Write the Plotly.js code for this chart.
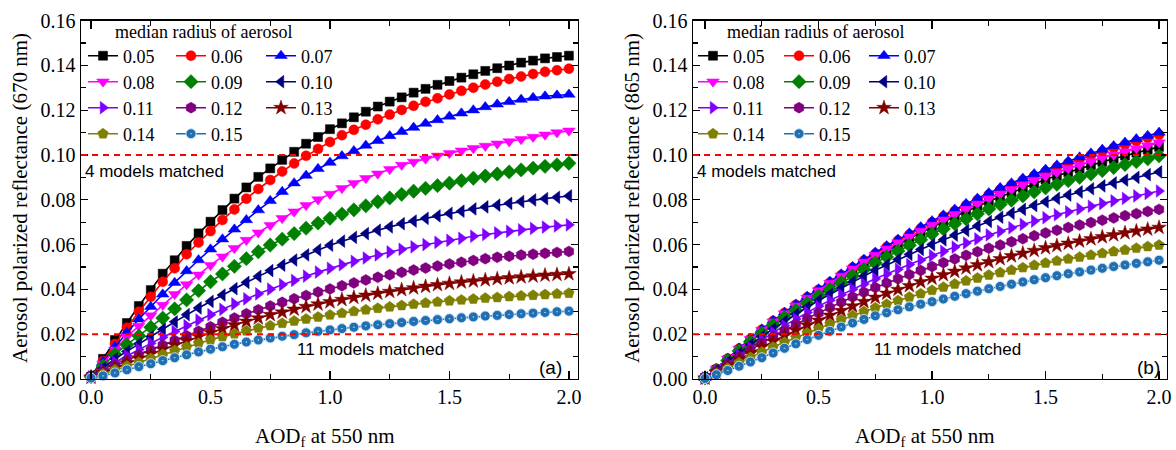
<!DOCTYPE html>
<html>
<head>
<meta charset="utf-8">
<script src="https://cdn.plot.ly/plotly-3.0.1.min.js"></script>
<style>html,body{margin:0;padding:0;background:#fff;}#chart{width:1176px;height:450px;}</style>
</head>
<body>
<div id="chart"></div>
<script>
// ---------------- DATA ----------------
const aod = [0,0.05,0.1,0.15,0.2,0.25,0.3,0.35,0.4,0.45,0.5,0.55,0.6,0.65,0.7,0.75,0.8,0.85,0.9,0.95,1.0,1.05,1.1,1.15,1.2,1.25,1.3,1.35,1.4,1.45,1.5,1.55,1.6,1.65,1.7,1.75,1.8,1.85,1.9,1.95,2.0];
const radii = ['0.05','0.06','0.07','0.08','0.09','0.10','0.11','0.12','0.13','0.14','0.15'];
const thresholds = [0.02, 0.10];
const matchLabels = ['11 models matched', '4 models matched'];
const panelTags = ['(a)', '(b)'];
const legendTitle = 'median radius of aerosol';
const xTitle = 'AOD<sub>f</sub> at 550 nm';
const yTitles = ['Aerosol polarized reflectance (670 nm)', 'Aerosol polarized reflectance (865 nm)'];

// 670 nm panel (a)
const a005 = [0.001,0.009,0.0174,0.025,0.0326,0.0397,0.047,0.053,0.0594,0.065,0.0702,0.0754,0.0805,0.0855,0.0902,0.094,0.0978,0.1014,0.105,0.108,0.1115,0.1141,0.1168,0.1193,0.1216,0.1238,0.1257,0.1278,0.1295,0.1313,0.133,0.1345,0.136,0.1375,0.1387,0.1399,0.1412,0.1421,0.1431,0.1437,0.1443];
const a006 = [0.001,0.008,0.0156,0.0229,0.030,0.0367,0.0434,0.0494,0.0557,0.0609,0.066,0.071,0.0757,0.0805,0.0848,0.0888,0.0926,0.0962,0.0996,0.1027,0.1058,0.1088,0.1112,0.1135,0.1159,0.118,0.1201,0.1219,0.1237,0.1253,0.127,0.1286,0.13,0.1314,0.1327,0.1339,0.135,0.1361,0.1371,0.1378,0.1385];
const a007 = [0.001,0.0077,0.0144,0.0207,0.0267,0.0323,0.0378,0.043,0.0482,0.0531,0.0579,0.0624,0.0668,0.071,0.0754,0.0795,0.0836,0.0874,0.0908,0.0938,0.0966,0.0995,0.1018,0.1042,0.1063,0.1085,0.1104,0.1122,0.114,0.1156,0.1172,0.1186,0.12,0.1214,0.1226,0.1237,0.1247,0.1255,0.1262,0.1266,0.127];
const a008 = [0.001,0.0068,0.013,0.0189,0.0236,0.0283,0.033,0.0378,0.0422,0.0465,0.0508,0.0546,0.0583,0.062,0.0653,0.0686,0.0717,0.0747,0.0775,0.0801,0.0826,0.0851,0.0874,0.0896,0.0916,0.0936,0.0955,0.0969,0.0983,0.0996,0.1008,0.1019,0.103,0.104,0.105,0.106,0.107,0.108,0.109,0.11,0.1108];
const a009 = [0.001,0.0058,0.011,0.0153,0.0192,0.0231,0.0272,0.0313,0.0353,0.0394,0.0434,0.0469,0.0503,0.0537,0.0568,0.0598,0.0624,0.0649,0.0673,0.0696,0.0717,0.0736,0.0755,0.0773,0.0791,0.0808,0.0824,0.0838,0.0851,0.0863,0.0874,0.0885,0.0896,0.0906,0.0915,0.0924,0.0933,0.0941,0.0949,0.0956,0.0963];
const a010 = [0.001,0.0048,0.009,0.0123,0.0157,0.0189,0.0222,0.0255,0.0287,0.0317,0.0346,0.0375,0.0403,0.0431,0.0458,0.0484,0.0508,0.0531,0.0554,0.0576,0.0597,0.0615,0.0632,0.0649,0.0664,0.0679,0.0693,0.0705,0.0717,0.0728,0.0739,0.0749,0.0759,0.0768,0.0776,0.0784,0.0792,0.0799,0.0805,0.0811,0.0817];
const a011 = [0.001,0.004,0.0075,0.0104,0.0132,0.0159,0.0186,0.0212,0.0238,0.0263,0.0287,0.0311,0.0335,0.0358,0.038,0.0401,0.0421,0.044,0.0459,0.0477,0.0494,0.051,0.0525,0.054,0.0554,0.0567,0.0579,0.059,0.06,0.061,0.0619,0.0628,0.0637,0.0645,0.0652,0.0659,0.0666,0.0672,0.0678,0.0683,0.0688];
const a012 = [0.0008,0.0033,0.006,0.0084,0.0107,0.0129,0.0151,0.0172,0.0193,0.0213,0.0233,0.0253,0.0272,0.0291,0.0309,0.0326,0.0342,0.0358,0.0373,0.0388,0.0402,0.0416,0.0429,0.0442,0.0454,0.0465,0.0476,0.0486,0.0495,0.0504,0.0513,0.0521,0.0529,0.0537,0.0543,0.0548,0.0553,0.0557,0.0561,0.0565,0.0569];
const a013 = [0.0007,0.0028,0.005,0.0071,0.0092,0.0112,0.0132,0.0151,0.017,0.0189,0.0207,0.0224,0.0241,0.0257,0.0272,0.0287,0.0298,0.0311,0.0323,0.0334,0.0344,0.0354,0.0364,0.0373,0.0382,0.039,0.0398,0.0406,0.0413,0.042,0.0426,0.0432,0.0437,0.0442,0.0447,0.0451,0.0455,0.0459,0.0463,0.0466,0.0469];
const a014 = [0.0006,0.0023,0.0041,0.0058,0.0075,0.0092,0.011,0.0127,0.0144,0.016,0.0175,0.0189,0.0202,0.0215,0.0227,0.0238,0.0249,0.0259,0.0268,0.0277,0.0286,0.0294,0.0302,0.0309,0.0316,0.0322,0.0328,0.0334,0.0339,0.0344,0.0349,0.0353,0.0357,0.0361,0.0364,0.0368,0.0371,0.0374,0.0377,0.038,0.0383];
const a015 = [0.0004,0.0014,0.0027,0.0041,0.0055,0.0068,0.0082,0.0095,0.0108,0.0121,0.0133,0.0144,0.0155,0.0165,0.0174,0.0183,0.0191,0.0198,0.0206,0.0213,0.0219,0.0225,0.0231,0.0237,0.0242,0.0247,0.0252,0.0257,0.0261,0.0265,0.0269,0.0273,0.0277,0.0281,0.0284,0.0288,0.0291,0.0294,0.0297,0.03,0.0303];

// 865 nm panel (b)
const b005 = [0.0005,0.0041,0.0085,0.0128,0.017,0.021,0.0248,0.0284,0.032,0.0355,0.039,0.0422,0.0454,0.0485,0.0515,0.0545,0.0573,0.06,0.0627,0.0653,0.0678,0.0702,0.0725,0.0748,0.0771,0.0793,0.0813,0.0833,0.0853,0.0872,0.089,0.0907,0.0923,0.0939,0.0954,0.0969,0.0983,0.0997,0.101,0.1023,0.1036];
const b006 = [0.0005,0.0045,0.0091,0.0136,0.0179,0.022,0.0259,0.0295,0.0331,0.0365,0.0398,0.0431,0.0464,0.0497,0.0529,0.056,0.0589,0.0618,0.0645,0.0672,0.0699,0.0725,0.075,0.0775,0.0799,0.0823,0.0845,0.0866,0.0887,0.0907,0.0927,0.0946,0.0964,0.0981,0.0998,0.1015,0.1031,0.1046,0.1061,0.1076,0.109];
const b007 = [0.0005,0.0045,0.0092,0.0137,0.018,0.0222,0.0261,0.0297,0.0333,0.0368,0.0401,0.0435,0.0468,0.0501,0.0533,0.0565,0.0594,0.0623,0.0651,0.0678,0.0705,0.0731,0.0757,0.0782,0.0806,0.083,0.0853,0.0874,0.0895,0.0915,0.0935,0.0954,0.0972,0.099,0.1007,0.1024,0.104,0.1056,0.1071,0.1086,0.11];
const b008 = [0.0005,0.0044,0.009,0.0134,0.0177,0.0218,0.0256,0.0292,0.0327,0.0361,0.0395,0.0428,0.046,0.0492,0.0523,0.0553,0.0581,0.0609,0.0635,0.0661,0.0687,0.0711,0.0735,0.0759,0.0782,0.0805,0.0826,0.0846,0.0866,0.0886,0.0905,0.0922,0.0939,0.0955,0.0971,0.0987,0.1001,0.1015,0.1029,0.1042,0.1055];
const b009 = [0.0005,0.004,0.0083,0.0125,0.0166,0.0205,0.024,0.0274,0.0306,0.0338,0.037,0.04,0.043,0.046,0.0489,0.0518,0.0545,0.0571,0.0597,0.0622,0.0647,0.067,0.0693,0.0715,0.0737,0.0759,0.0779,0.0798,0.0817,0.0835,0.0853,0.0869,0.0885,0.09,0.0915,0.093,0.0944,0.0957,0.097,0.0983,0.0996];
const b010 = [0.0005,0.0038,0.0077,0.0115,0.0153,0.019,0.0224,0.0257,0.0289,0.032,0.035,0.0378,0.0406,0.0433,0.0459,0.0485,0.0509,0.0533,0.0556,0.0578,0.06,0.0621,0.0642,0.0663,0.0683,0.0703,0.0722,0.074,0.0757,0.0774,0.0791,0.0806,0.0821,0.0835,0.0849,0.0862,0.0875,0.0888,0.09,0.0912,0.0924];
const b011 = [0.0004,0.0035,0.0071,0.0106,0.0141,0.0175,0.0207,0.0238,0.0268,0.0297,0.0325,0.0351,0.0376,0.0401,0.0424,0.0447,0.0469,0.049,0.0511,0.0531,0.0551,0.057,0.0589,0.0607,0.0625,0.0643,0.0659,0.0675,0.069,0.0705,0.072,0.0733,0.0746,0.0759,0.0771,0.0783,0.0795,0.0806,0.0817,0.0828,0.0839];
const b012 = [0.0004,0.0032,0.0065,0.0097,0.0129,0.016,0.0189,0.0217,0.0244,0.027,0.0295,0.0319,0.0343,0.0366,0.0387,0.0408,0.0428,0.0447,0.0466,0.0484,0.0502,0.0519,0.0536,0.0552,0.0568,0.0584,0.0598,0.0612,0.0626,0.0639,0.0652,0.0664,0.0676,0.0687,0.0698,0.0709,0.0719,0.0729,0.0738,0.0748,0.0757];
const b013 = [0.0003,0.0029,0.0058,0.0087,0.0115,0.0143,0.0168,0.0193,0.0217,0.024,0.0262,0.0284,0.0305,0.0325,0.0345,0.0364,0.0382,0.0399,0.0416,0.0433,0.0449,0.0465,0.048,0.0495,0.0509,0.0523,0.0536,0.0549,0.0561,0.0573,0.0585,0.0595,0.0605,0.0615,0.0625,0.0634,0.0643,0.0652,0.066,0.0668,0.0676];
const b014 = [0.0003,0.0024,0.0048,0.0073,0.0097,0.0121,0.0143,0.0164,0.0185,0.0205,0.0225,0.0245,0.0264,0.0283,0.0301,0.0318,0.0334,0.035,0.0366,0.0381,0.0396,0.041,0.0424,0.0438,0.0451,0.0464,0.0475,0.0486,0.0497,0.0508,0.0518,0.0527,0.0536,0.0544,0.0553,0.0561,0.0569,0.0576,0.0584,0.0591,0.0598];
const b015 = [0.0002,0.0019,0.0038,0.0057,0.0076,0.0095,0.0116,0.0137,0.0157,0.0176,0.0195,0.0213,0.0232,0.025,0.0266,0.0282,0.0296,0.0309,0.0322,0.0334,0.0345,0.0357,0.0369,0.0381,0.0392,0.0403,0.0413,0.0423,0.0433,0.0443,0.0452,0.0461,0.047,0.0478,0.0486,0.0494,0.0502,0.0509,0.0516,0.0523,0.053];

const panelA = [a005,a006,a007,a008,a009,a010,a011,a012,a013,a014,a015];
const panelB = [b005,b006,b007,b008,b009,b010,b011,b012,b013,b014,b015];

// ---------------- STYLE ----------------
const colors = ['#000000','#ff0000','#0000ff','#ff00ff','#008000','#000080','#8000ff','#800080','#800000','#808000','#1f6fb2'];
const symbols = ['square','circle','triangle-up','triangle-down','diamond','triangle-left','triangle-right','hexagon','star','pentagon','circle-dot'];
const sizes = [9,10,11,11,11,11,11,11,11,11,10];

const W = 1176, H = 450;
const px = v => v / W;
const py = v => 1 - v / H;
const SERIF = 'Liberation Serif, Times New Roman, serif';
const SANS = 'Liberation Sans, Arial, sans-serif';

const panels = [
  {data: panelA, xa: 'x', ya: 'y', dom: [81, 578], xr: [-0.042, 2.038], colX: [83, 171, 261]},
  {data: panelB, xa: 'x2', ya: 'y2', dom: [693, 1167], xr: [-0.053, 2.035], colX: [693, 779, 864]}
];
const rowY = [56, 82, 108, 134];

const traces = [];
const legendDefs = {};
let legendCount = 0;
panels.forEach(p => {
  p.data.forEach((vals, i) => {
    legendCount += 1;
    const lid = legendCount === 1 ? 'legend' : 'legend' + legendCount;
    legendDefs[lid] = {row: Math.floor(i / 3), col: i % 3, p: p};
    traces.push({
      type: 'scatter', mode: 'lines+markers',
      x: aod, y: vals, name: radii[i],
      xaxis: p.xa, yaxis: p.ya,
      legend: lid,
      cliponaxis: false,
      line: {color: colors[i], width: 1.6},
      marker: {symbol: symbols[i], size: sizes[i], color: colors[i],
               line: {color: i === 10 ? '#cfe5fb' : colors[i], width: i === 10 ? 0.9 : 0.5}}
    });
  });
});

function axisX(p, anchor) {
  return {
    domain: [px(p.dom[0]), px(p.dom[1])], range: p.xr, anchor: anchor,
    tick0: 0, dtick: 0.5, tickformat: '.1f',
    ticks: 'inside', ticklen: 8, tickwidth: 1.2, tickcolor: '#000',
    minor: {dtick: 0.25, ticks: 'inside', ticklen: 5, tickwidth: 1.2, tickcolor: '#000'},
    showline: true, linecolor: '#000', linewidth: 1.4, mirror: 'ticks',
    showgrid: false, zeroline: false,
    tickfont: {family: SERIF, size: 20, color: '#000'}
  };
}
function axisY(anchor) {
  return {
    domain: [py(379), py(20.5)], range: [0, 0.16], anchor: anchor,
    tick0: 0, dtick: 0.02, tickformat: '.2f',
    ticks: 'inside', ticklen: 7, tickwidth: 1.2, tickcolor: '#000',
    minor: {dtick: 0.01, ticks: 'inside', ticklen: 5, tickwidth: 1.2, tickcolor: '#000'},
    showline: true, linecolor: '#000', linewidth: 1.4, mirror: 'ticks',
    showgrid: false, zeroline: false,
    tickfont: {family: SERIF, size: 20, color: '#000'}
  };
}

const layout = {
  width: W, height: H,
  margin: {l: 0, r: 0, t: 0, b: 0},
  paper_bgcolor: '#fff', plot_bgcolor: '#fff',
  showlegend: true,
  xaxis: axisX(panels[0], 'y'),
  yaxis: axisY('x'),
  xaxis2: axisX(panels[1], 'y2'),
  yaxis2: axisY('x2'),
  shapes: [],
  annotations: []
};

Object.keys(legendDefs).forEach(lid => {
  const d = legendDefs[lid];
  layout[lid] = {
    orientation: 'h', x: px(d.p.colX[d.col]), y: py(rowY[d.row]), xanchor: 'left', yanchor: 'middle',
    bgcolor: 'rgba(0,0,0,0)', borderwidth: 0,
    font: {family: SERIF, size: 18, color: '#000'},
    itemclick: false
  };
});

panels.forEach((p, k) => {
  thresholds.forEach(t => {
    layout.shapes.push({type: 'line', xref: p.xa + ' domain', yref: p.ya, x0: 0, x1: 1, y0: t, y1: t,
      line: {color: '#ff0000', width: 2, dash: '6px,5px'}});
  });
  const axL = p.dom[0];
  layout.annotations.push({xref: 'paper', yref: 'paper', x: px(axL + 32), y: py(32), xanchor: 'left', yanchor: 'middle',
    text: legendTitle, showarrow: false, font: {family: SERIF, size: 18, color: '#000'}});
  layout.annotations.push({xref: 'paper', yref: 'paper', x: px(axL + 2), y: py(171), xanchor: 'left', yanchor: 'middle',
    text: matchLabels[1], showarrow: false, font: {family: SANS, size: 17, color: '#000'}});
  layout.annotations.push({xref: 'paper', yref: 'paper', x: px(k === 0 ? 370 : 947), y: py(349), xanchor: 'center', yanchor: 'middle',
    text: matchLabels[0], showarrow: false, font: {family: SANS, size: 17, color: '#000'}});
  layout.annotations.push({xref: 'paper', yref: 'paper', x: px(k === 0 ? 550 : 1148), y: py(367), xanchor: 'center', yanchor: 'middle',
    text: panelTags[k], showarrow: false, font: {family: SANS, size: 19, color: '#000'}});
  layout.annotations.push({xref: 'paper', yref: 'paper', x: px((p.dom[0] + p.dom[1]) / 2 - 5), y: py(437), xanchor: 'center', yanchor: 'middle',
    text: xTitle, showarrow: false, font: {family: SERIF, size: 21, color: '#000'}});
  layout.annotations.push({xref: 'paper', yref: 'paper', x: px(k === 0 ? 20 : 632), y: py(198), xanchor: 'center', yanchor: 'middle',
    textangle: -90, text: yTitles[k], showarrow: false, font: {family: SERIF, size: 21, color: '#000'}});
});

Plotly.newPlot('chart', traces, layout, {staticPlot: true, displayModeBar: false});
</script>
</body>
</html>
